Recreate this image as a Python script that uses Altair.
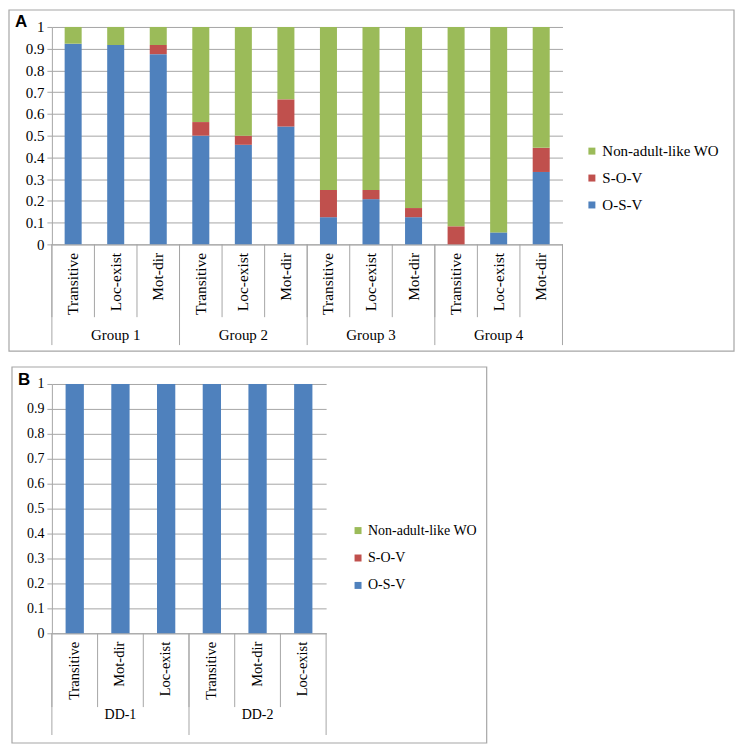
import altair as alt
import pandas as pd

# ---------------- data ----------------
series = ["Non-adult-like WO", "S-O-V", "O-S-V"]
colors = ["#9bbb59", "#c0504d", "#4f81bd"]

groups_a = ["Group 1", "Group 2", "Group 3", "Group 4"]
cats_a = ["Transitive", "Loc-exist", "Mot-dir"]
osv_a = [0.923, 0.917, 0.875, 0.5, 0.458, 0.542, 0.125, 0.208, 0.125, 0.0, 0.055, 0.333]
sov_a = [0.0, 0.0, 0.042, 0.0625, 0.042, 0.125, 0.125, 0.042, 0.042, 0.083, 0.0, 0.111]
non_a = [0.077, 0.083, 0.083, 0.4375, 0.5, 0.333, 0.75, 0.75, 0.833, 0.917, 0.945, 0.556]

groups_b = ["DD-1", "DD-2"]
cats_b = ["Transitive", "Mot-dir", "Loc-exist"]
osv_b = [1.0, 1.0, 1.0, 1.0, 1.0, 1.0]
sov_b = [0.0, 0.0, 0.0, 0.0, 0.0, 0.0]
non_b = [0.0, 0.0, 0.0, 0.0, 0.0, 0.0]

y_ticks = [0, 0.1, 0.2, 0.3, 0.4, 0.5, 0.6, 0.7, 0.8, 0.9, 1]

FONT = "Liberation Serif, Times New Roman, serif"
GRID = "#a6a6a6"


def panel(letter, groups, cats, osv, sov, non, W, H, fs, frame, leg_x, leg_y,
          row_pad, short_len, long_len, glabel_y, letter_xy):
    keys = [f"{g}|{c}" for g in groups for c in cats]
    rows = []
    for i, k in enumerate(keys):
        g, c = k.split("|")
        for s, v, o in ((series[2], osv[i], 0), (series[1], sov[i], 1), (series[0], non[i], 2)):
            rows.append({"key": k, "group": g, "series": s, "value": v, "order": o})
    df = pd.DataFrame(rows)
    xscale = alt.Scale(domain=keys, paddingInner=0, paddingOuter=0)

    one = pd.DataFrame({"a": [0]})
    fx1, fx2, fy1, fy2 = frame
    frame_layer = alt.Chart(one).mark_rect(
        fillOpacity=0, stroke=GRID, strokeWidth=1.2
    ).encode(
        x=alt.value(fx1), x2=alt.value(fx2), y=alt.value(fy1), y2=alt.value(fy2)
    )

    bars = alt.Chart(df).mark_bar(width=alt.RelativeBandSize(0.4)).encode(
        x=alt.X("key:N", sort=keys, scale=xscale,
                axis=alt.Axis(title=None, labelExpr="split(datum.label, '|')[1]",
                              labelAngle=270, labelFont=FONT, labelFontSize=fs + 0.5,
                              labelColor="black", ticks=False, domainColor=GRID,
                              labelPadding=8)),
        y=alt.Y("value:Q", stack="zero", scale=alt.Scale(domain=[0, 1], nice=False),
                axis=alt.Axis(title=None, values=y_ticks, format="~g", labelFont=FONT,
                              labelFontSize=fs, labelColor="black", grid=True,
                              gridColor=GRID, domainColor=GRID, tickColor=GRID,
                              tickSize=5, labelPadding=3)),
        color=alt.Color("series:N", scale=alt.Scale(domain=series, range=colors),
                        legend=alt.Legend(title=None, orient="none", legendX=leg_x,
                                          legendY=leg_y, symbolType="square",
                                          symbolSize=49, symbolStrokeWidth=0,
                                          labelFont=FONT, labelFontSize=fs,
                                          labelColor="black", rowPadding=row_pad,
                                          labelOffset=3)),
        order=alt.Order("order:Q", sort="ascending"),
    )

    kdf = pd.DataFrame({"key": keys})
    short_rules = alt.Chart(kdf).mark_rule(color=GRID).encode(
        x=alt.X("key:N", sort=keys, scale=xscale, bandPosition=0),
        y=alt.value(H), y2=alt.value(H + short_len),
    )
    firsts = pd.DataFrame({"key": [f"{g}|{cats[0]}" for g in groups]})
    long_rules = alt.Chart(firsts).mark_rule(color=GRID).encode(
        x=alt.X("key:N", sort=keys, scale=xscale, bandPosition=0),
        y=alt.value(H), y2=alt.value(H + long_len),
    )
    lasts = pd.DataFrame({"key": [keys[-1]]})
    end_rule = alt.Chart(lasts).mark_rule(color=GRID).encode(
        x=alt.X("key:N", sort=keys, scale=xscale, bandPosition=1),
        y=alt.value(H), y2=alt.value(H + long_len),
    )
    mids = pd.DataFrame({"key": [f"{g}|{cats[len(cats) // 2]}" for g in groups],
                         "group": groups})
    glabels = alt.Chart(mids).mark_text(
        font=FONT, fontSize=fs, color="black", baseline="middle", align="center"
    ).encode(
        x=alt.X("key:N", sort=keys, scale=xscale),
        y=alt.value(H + glabel_y),
        text="group:N",
    )
    ldf = pd.DataFrame({"t": [letter]})
    letter_layer = alt.Chart(ldf).mark_text(
        font="Liberation Sans", fontSize=17, fontWeight="bold", color="black",
        align="left", baseline="middle"
    ).encode(x=alt.value(letter_xy[0]), y=alt.value(letter_xy[1]), text="t:N")

    return alt.layer(frame_layer, bars, short_rules, long_rules, end_rule,
                     glabels, letter_layer).properties(width=W, height=H)


HA = 218
chart_a = panel("A", groups_a, cats_a, osv_a, sov_a, non_a, W=512, H=HA, fs=15,
                frame=(-43, 684, -17, HA + 107), leg_x=534, leg_y=117, row_pad=11,
                short_len=73, long_len=101, glabel_y=91, letter_xy=(-37, -5))
HB = 250
chart_b = panel("B", groups_b, cats_b, osv_b, sov_b, non_b, W=275, H=HB, fs=14,
                frame=(-40, 436, -17, HB + 110), leg_x=300, leg_y=140, row_pad=13.5,
                short_len=74, long_len=102, glabel_y=82, letter_xy=(-34, -4))

chart = alt.vconcat(chart_a, chart_b, spacing=14).resolve_scale(
    color="independent"
).resolve_legend(color="independent").properties(
    padding=0
).configure_view(strokeWidth=0)

chart.save("out.html", embed_options={"renderer": "svg", "actions": False})
